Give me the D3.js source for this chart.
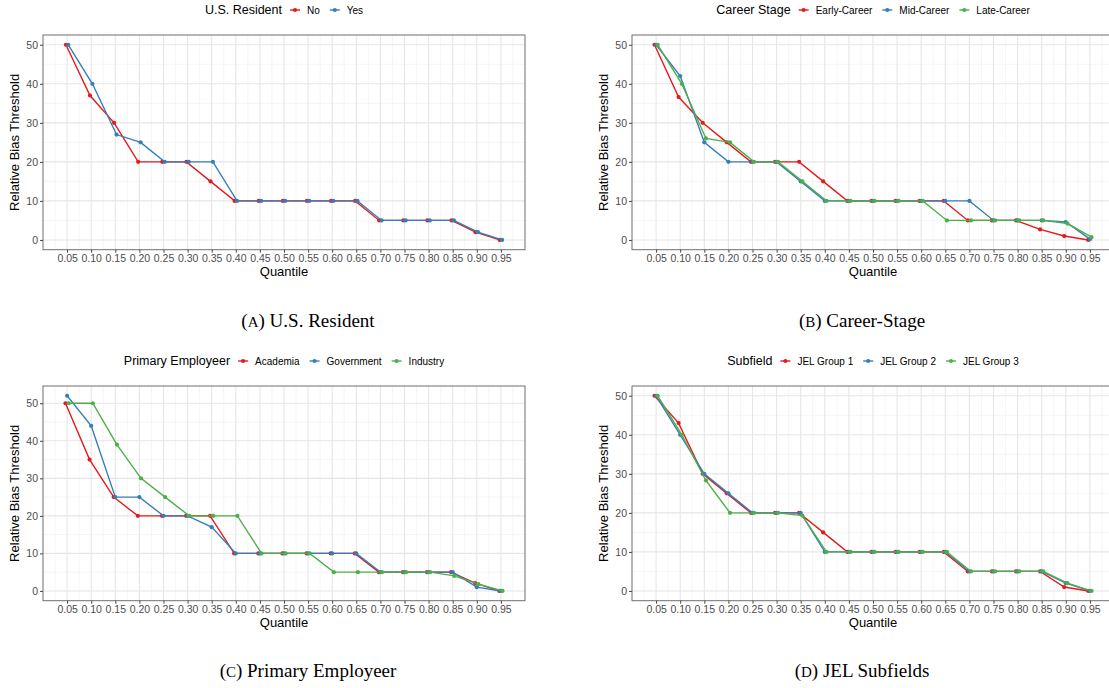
<!DOCTYPE html>
<html>
<head>
<meta charset="utf-8">
<script src="https://cdn.jsdelivr.net/npm/d3@7"></script>
<style>
  html, body { margin: 0; padding: 0; background: #fff; }
  svg { display: block; font-family: "Liberation Sans", Arial, Helvetica, sans-serif; }
</style>
</head>
<body>
<svg id="fig" width="1109" height="688"></svg>
<script>
// Quantiles on the x axis and the tick labels shown under each panel
const quantiles = [0.05, 0.10, 0.15, 0.20, 0.25, 0.30, 0.35, 0.40, 0.45, 0.50,
                   0.55, 0.60, 0.65, 0.70, 0.75, 0.80, 0.85, 0.90, 0.95];
const xTickLabels = quantiles.map(q => q.toFixed(2));
const yTicks = [0, 10, 20, 30, 40, 50];
const yMinorTicks = [5, 15, 25, 35, 45, 55];

// Panel A: U.S. Resident
const residentGroups = ["No", "Yes"];
const residentNo  = [50, 37, 30, 20, 20, 20, 15, 10, 10, 10, 10, 10, 10, 5, 5, 5, 5, 2, 0];
const residentYes = [50, 40, 27, 25, 20, 20, 20, 10, 10, 10, 10, 10, 10, 5, 5, 5, 5, 2, 0];

// Panel B: Career Stage
const careerGroups = ["Early-Career", "Mid-Career", "Late-Career"];
const careerEarly = [50, 36.6, 30, 25, 20, 20, 20, 15, 10, 10, 10, 10, 10, 5, 5, 5, 2.7, 1, 0];
const careerMid   = [50, 42, 25, 20, 20, 20, 15, 10, 10, 10, 10, 10, 10, 10, 5, 5, 5, 4.6, 0.2];
const careerLate  = [50, 40, 26, 25, 20, 20, 15, 10, 10, 10, 10, 10, 5, 5, 5, 5, 5, 4.2, 0.7];

// Panel C: Primary Employeer
const employerGroups = ["Academia", "Government", "Industry"];
const employerAcademia   = [50, 35, 25, 20, 20, 20, 20, 10, 10, 10, 10, 10, 10, 5, 5, 5, 5, 2.1, 0];
const employerGovernment = [52, 44, 25, 25, 20, 20, 17, 10, 10, 10, 10, 10, 10, 5, 5, 5, 5, 1, 0];
const employerIndustry   = [50, 50, 39, 30, 25, 20, 20, 20, 10, 10, 10, 5, 5, 5, 5, 5, 4, 1.8, 0];

// Panel D: JEL Subfields
const subfieldGroups = ["JEL Group 1", "JEL Group 2", "JEL Group 3"];
const subfieldGroup1 = [50, 43, 30, 25, 20, 20, 20, 15, 10, 10, 10, 10, 10, 5, 5, 5, 5, 1, 0];
const subfieldGroup2 = [50, 40, 30, 25, 20, 20, 20, 10, 10, 10, 10, 10, 10, 5, 5, 5, 5, 2, 0];
const subfieldGroup3 = [50, 40, 28.3, 20, 20, 20, 19.3, 10, 10, 10, 10, 10, 10, 5, 5, 5, 5, 2, 0];

const palette = ["#E41A1C", "#377EB8", "#4DAF4A"];

// Layout of the four panels
const panels = [
  { legendTitle: "U.S. Resident", groups: residentGroups, series: [residentNo, residentYes],
    left: 43, right: 525, top: 35, bottom: 249.7, yDomain: [-2.5, 52.5],
    legendY: 10, capLetter: "A", capText: "U.S. Resident", capX: 308, capY: 327 },
  { legendTitle: "Career Stage", groups: careerGroups, series: [careerEarly, careerMid, careerLate],
    left: 632, right: 1114, top: 35, bottom: 249.7, yDomain: [-2.5, 52.5],
    legendY: 10, capLetter: "B", capText: "Career-Stage", capX: 862, capY: 327 },
  { legendTitle: "Primary Employeer", groups: employerGroups,
    series: [employerAcademia, employerGovernment, employerIndustry],
    left: 43, right: 525, top: 386, bottom: 600.7, yDomain: [-2.6, 54.6],
    legendY: 361, capLetter: "C", capText: "Primary Employeer", capX: 308, capY: 677 },
  { legendTitle: "Subfield", groups: subfieldGroups,
    series: [subfieldGroup1, subfieldGroup2, subfieldGroup3],
    left: 632, right: 1114, top: 386, bottom: 600.7, yDomain: [-2.5, 52.5],
    legendY: 361, capLetter: "D", capText: "JEL Subfields", capX: 862, capY: 677 }
];

const svg = d3.select("#fig");
const dodgeWidth = 0.01;

panels.forEach((p, pi) => {
  const x = d3.scaleLinear().domain([0, 1]).range([p.left, p.right]);
  const y = d3.scaleLinear().domain(p.yDomain).range([p.bottom, p.top]);
  const g = svg.append("g");

  const clipId = "clip" + pi;
  svg.append("clipPath").attr("id", clipId)
    .append("rect").attr("x", p.left).attr("y", p.top)
    .attr("width", p.right - p.left).attr("height", p.bottom - p.top);

  // Grid lines
  const grid = g.append("g").attr("clip-path", `url(#${clipId})`);
  const xMinor = d3.range(0.025, 1.0, 0.05);
  grid.selectAll(".xminor").data(xMinor).join("line")
    .attr("x1", d => x(d)).attr("x2", d => x(d))
    .attr("y1", p.top).attr("y2", p.bottom)
    .attr("stroke", "#efefef").attr("stroke-width", 0.6);
  grid.selectAll(".yminor").data(yMinorTicks).join("line")
    .attr("x1", p.left).attr("x2", p.right)
    .attr("y1", d => y(d)).attr("y2", d => y(d))
    .attr("stroke", "#efefef").attr("stroke-width", 0.6);
  grid.selectAll(".xmajor").data(quantiles).join("line")
    .attr("x1", d => x(d)).attr("x2", d => x(d))
    .attr("y1", p.top).attr("y2", p.bottom)
    .attr("stroke", "#e6e6e6").attr("stroke-width", 1.1);
  grid.selectAll(".ymajor").data(yTicks).join("line")
    .attr("x1", p.left).attr("x2", p.right)
    .attr("y1", d => y(d)).attr("y2", d => y(d))
    .attr("stroke", "#e6e6e6").attr("stroke-width", 1.1);

  // Series lines and points, dodged horizontally by group
  const n = p.series.length;
  const marks = g.append("g").attr("clip-path", `url(#${clipId})`);
  p.series.forEach((vals, si) => {
    const off = (si - (n - 1) / 2) * dodgeWidth / n;
    const pts = quantiles.map((q, i) => [q + off, vals[i]]);
    marks.append("path")
      .attr("d", d3.line().x(d => x(d[0])).y(d => y(d[1]))(pts))
      .attr("fill", "none").attr("stroke", palette[si]).attr("stroke-width", 1.4);
    marks.selectAll(null).data(pts).join("circle")
      .attr("cx", d => x(d[0])).attr("cy", d => y(d[1])).attr("r", 2.1)
      .attr("fill", palette[si]);
  });

  // Panel border
  g.append("rect")
    .attr("x", p.left).attr("y", p.top)
    .attr("width", p.right - p.left).attr("height", p.bottom - p.top)
    .attr("fill", "none").attr("stroke", "#6e6e6e").attr("stroke-width", 1);

  // Axes
  const xAxis = d3.axisBottom(x).tickValues(quantiles)
    .tickFormat((d, i) => xTickLabels[i]).tickSize(3).tickPadding(2);
  const xg = g.append("g").attr("transform", `translate(0,${p.bottom})`).call(xAxis);
  const yAxis = d3.axisLeft(y).tickValues(yTicks).tickSize(3).tickPadding(2);
  const yg = g.append("g").attr("transform", `translate(${p.left},0)`).call(yAxis);
  [xg, yg].forEach(ax => {
    ax.select(".domain").remove();
    ax.selectAll(".tick line").attr("stroke", "#444");
    ax.selectAll(".tick text").attr("fill", "#4d4d4d")
      .style("font-family", "'Liberation Sans', Arial, sans-serif").style("font-size", "10.5px");
  });

  // Axis titles
  g.append("text").attr("x", (p.left + Math.min(p.right, 1114)) / 2 + (p.right > 1109 ? 0 : 0))
    .attr("y", p.bottom + 26.5).attr("text-anchor", "middle")
    .style("font-size", "13px").attr("fill", "#000").text("Quantile");
  g.append("text")
    .attr("transform", `translate(${p.left - 24},${(p.top + p.bottom) / 2}) rotate(-90)`)
    .attr("text-anchor", "middle")
    .style("font-size", "13px").attr("fill", "#000").text("Relative Bias Threshold");

  // Legend above the panel
  const lg = g.append("g");
  const title = lg.append("text").attr("x", 0).attr("y", 0).attr("dy", "0.35em")
    .style("font-size", "12.5px").attr("fill", "#000").text(p.legendTitle);
  let cursor = title.node().getComputedTextLength();
  p.groups.forEach((name, gi) => {
    const kc = cursor + 13;
    lg.append("line").attr("x1", kc - 5).attr("x2", kc + 5).attr("y1", 0).attr("y2", 0)
      .attr("stroke", palette[gi]).attr("stroke-width", 1.4);
    lg.append("circle").attr("cx", kc).attr("cy", 0).attr("r", 2.1).attr("fill", palette[gi]);
    const t = lg.append("text").attr("x", kc + 12).attr("y", 0).attr("dy", "0.35em")
      .style("font-size", "10px").attr("fill", "#000").text(name);
    cursor = kc + 12 + t.node().getComputedTextLength() + 2;
  });
  const lw = cursor - 2;
  lg.attr("transform", `translate(${(p.left + p.right) / 2 - lw / 2},${p.legendY})`);

  // Subfigure caption
  const cap = svg.append("text").attr("x", p.capX).attr("y", p.capY)
    .attr("text-anchor", "middle")
    .style("font-family", "'Liberation Serif', 'Times New Roman', serif")
    .style("font-size", "19px").attr("fill", "#000");
  cap.append("tspan").text("(");
  cap.append("tspan").style("font-size", "15px").text(p.capLetter);
  cap.append("tspan").text(") " + p.capText);
});
</script>
</body>
</html>
